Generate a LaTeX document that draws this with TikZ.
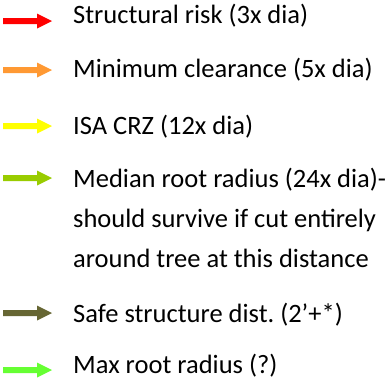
\documentclass[tikz,border=0pt]{standalone}
\usepackage{fontspec}
\setmainfont{Carlito}
\definecolor{cred}{RGB}{255,0,0}
\definecolor{corange}{RGB}{255,153,51}
\definecolor{cyellow}{RGB}{255,255,0}
\definecolor{cyg}{RGB}{153,204,0}
\definecolor{colive}{RGB}{102,102,51}
\definecolor{cbgreen}{RGB}{102,255,51}
\tikzset{
  legtext/.style={anchor=base west, inner sep=0pt, font=\fontsize{26.5}{40}\selectfont},
  legarrow/.pic={
    \fill (3pt,3pt) -- (37pt,3pt) -- (37pt,7.5pt) -- (52pt,0pt) -- (37pt,-7.5pt) -- (37pt,-3pt) -- (3pt,-3pt) -- cycle;
  }
}
\frenchspacing
\begin{document}
\begin{tikzpicture}[x=1pt,y=1pt]
\useasboundingbox (0,0) rectangle (389,-383);
\fill[white] (0,0) rectangle (389,-383);
\pic[cred] at (0,-21) {legarrow};
\pic[corange] at (0,-70) {legarrow};
\pic[cyellow] at (0,-126) {legarrow};
\pic[cyg] at (0,-178) {legarrow};
\pic[colive] at (0,-313) {legarrow};
\pic[cbgreen] at (0,-370) {legarrow};
\node[legtext] (t1) at (73,-23) {Structural risk (3x dia)};
\node[legtext] (t2) at (73,-77) {Minimum clearance (5x dia)};
\node[legtext] (t3) at (73,-134) {ISA CRZ (12x dia)};
\node[legtext] (t4a) at (73,-187) {Median root radius (24x dia)-};
\node[legtext] (t4b) at (73,-227) {should survive if cut entirely};
\node[legtext] (t4c) at (73,-267) {around tree at this distance};
\node[legtext] (t5) at (73,-322) {Safe structure dist. (2’+*)};
\node[legtext] (t6) at (73,-373) {Max root radius (?)};
\end{tikzpicture}
\end{document}
